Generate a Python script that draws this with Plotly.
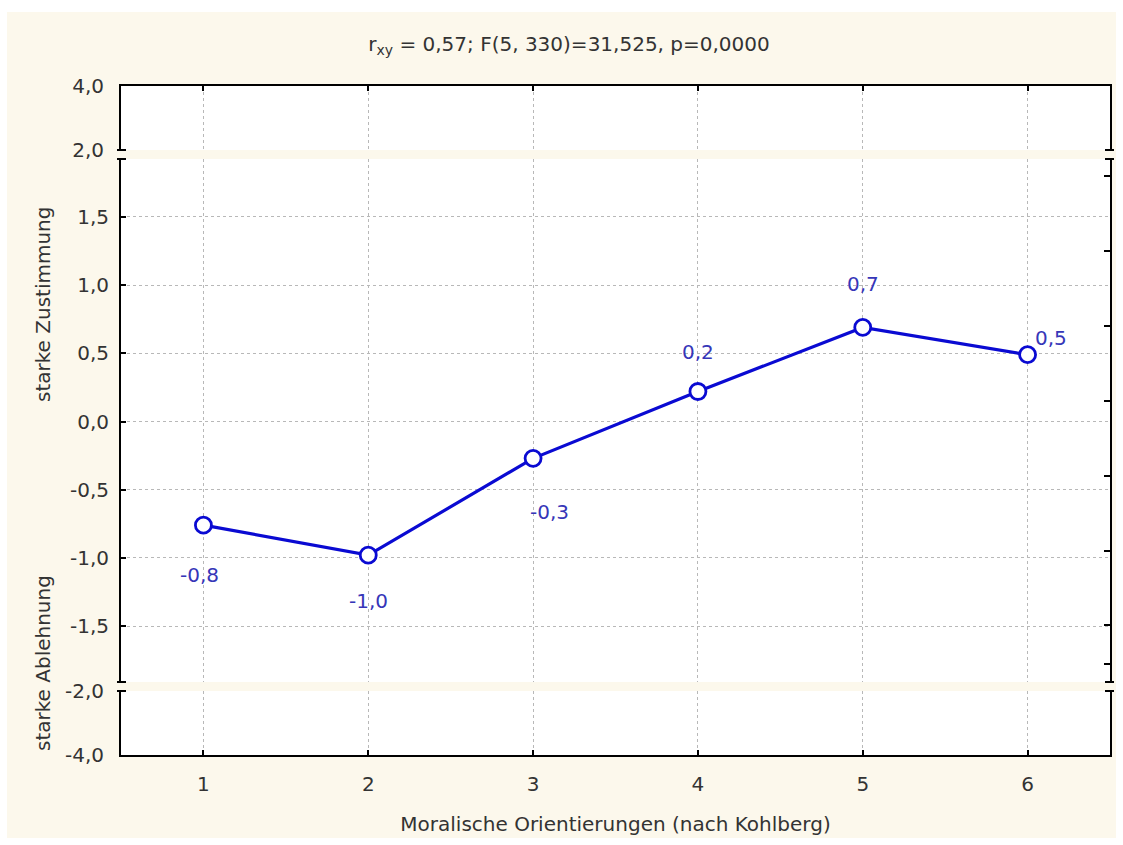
import plotly.graph_objects as go

# ---------------- data ----------------
categories = [1, 2, 3, 4, 5, 6]
means = [-0.76, -0.98, -0.27, 0.22, 0.69, 0.49]
title_text = "r<sub>xy</sub> = 0,57; F(5, 330)=31,525, p=0,0000"
x_title = "Moralische Orientierungen (nach Kohlberg)"
y_title_upper = "starke Zustimmung"
y_title_lower = "starke Ablehnung"
main_ticks = [-1.5, -1.0, -0.5, 0.0, 0.5, 1.0, 1.5]
upper_ticks = [2.0, 4.0]
lower_ticks = [-4.0, -2.0]
right_ticks = [1.80, 1.25, 0.70, 0.15, -0.40, -0.95, -1.49, -1.78]

# label offsets in pixels (style)
label_shift = [(-4, -50), (0, -46), (16, -54), (0, 40), (0, 43), (23, 17)]


def fmt(v):
    return f"{v:.1f}".replace(".", ",")


FONT = "DejaVu Sans"
TXT = "#333333"
BLUE = "#0a0ad2"
LBLUE = "#3636b8"
GRID = "#b8b8b8"
CREAM = "#fcf8ec"

W, H = 1123, 845
ML, MR, MT, MB = 121, 13, 86, 90
PH = H - MT - MB  # 669
PW = W - ML - MR  # 989

dom_low = [0, 64 / PH]
dom_main = [73 / PH, 596 / PH]
dom_up = [605 / PH, 1]

fig = go.Figure()
fig.add_trace(go.Scatter(
    x=categories, y=means, mode="lines+markers",
    xaxis="x", yaxis="y",
    line=dict(color=BLUE, width=3.2),
    marker=dict(symbol="circle", size=16, color="white",
                line=dict(color=BLUE, width=2.8)),
    hoverinfo="skip", showlegend=False,
))
# empty traces so the upper/lower segments and the right tick axis are created
for xa, ya in [("x2", "y2"), ("x3", "y3"), ("x", "y4")]:
    fig.add_trace(go.Scatter(x=[], y=[], xaxis=xa, yaxis=ya, mode="markers",
                             hoverinfo="skip", showlegend=False))

tickfont = dict(family=FONT, size=20, color=TXT)
common_x = dict(range=[0.5, 6.5], zeroline=False, showgrid=True,
                gridcolor=GRID, griddash="dot", gridwidth=1,
                tickvals=categories)

fig.update_layout(
    width=W, height=H,
    margin=dict(l=ML, r=MR, t=MT, b=MB),
    paper_bgcolor="white", plot_bgcolor="white",
    showlegend=False,
    font=dict(family=FONT, size=20, color=TXT),
    title=dict(text=title_text, x=569 / W, xref="container", xanchor="center",
               y=1 - 44 / H, yref="container", yanchor="middle",
               font=dict(family=FONT, size=20, color=TXT)),
    xaxis=dict(**common_x, anchor="y", domain=[0, 1], showline=False,
               ticks="", showticklabels=False),
    xaxis2=dict(**common_x, anchor="y2", domain=[0, 1], side="top",
                showline=True, linecolor="black", linewidth=2,
                ticks="inside", ticklen=5, tickwidth=2, tickcolor="black",
                showticklabels=False, matches="x"),
    xaxis3=dict(**common_x, anchor="y3", domain=[0, 1],
                showline=True, linecolor="black", linewidth=2,
                ticks="inside", ticklen=5, tickwidth=2, tickcolor="black",
                ticktext=[str(c) for c in categories], tickfont=tickfont,
                ticklabelstandoff=10, matches="x",
                title=dict(text=x_title, standoff=22,
                           font=dict(family=FONT, size=20, color=TXT))),
    yaxis=dict(anchor="x", domain=dom_main, range=[-1.91, 1.925],
               showline=True, mirror=True, linecolor="black", linewidth=2,
               ticks="inside", ticklen=5, tickwidth=2, tickcolor="black",
               tickvals=main_ticks, ticktext=[fmt(v) for v in main_ticks],
               tickfont=tickfont, ticklabelstandoff=6,
               showgrid=True, gridcolor=GRID, griddash="dot", gridwidth=1,
               zeroline=False),
    yaxis2=dict(anchor="x2", domain=dom_up, range=[2, 4],
                showline=True, mirror=True, linecolor="black", linewidth=2,
                ticks="", tickvals=upper_ticks,
                ticktext=[fmt(v) for v in upper_ticks],
                tickfont=tickfont, ticklabelstandoff=11,
                showgrid=False, zeroline=False),
    yaxis3=dict(anchor="x3", domain=dom_low, range=[-4, -2],
                showline=True, mirror=True, linecolor="black", linewidth=2,
                ticks="", tickvals=lower_ticks,
                ticktext=[fmt(v) for v in lower_ticks],
                tickfont=tickfont, ticklabelstandoff=11,
                showgrid=True, gridcolor=GRID, griddash="dot", gridwidth=1,
                zeroline=False),
    yaxis4=dict(overlaying="y", side="right", anchor="x", range=[-1.91, 1.925],
                showline=False, showgrid=False, zeroline=False,
                ticks="inside", ticklen=6, tickwidth=2, tickcolor="black",
                tickvals=right_ticks, showticklabels=False),
)

# background: cream frame with white border, white plot segments
shapes = [dict(type="rect", xref="paper", yref="paper",
               x0=(7 - ML) / PW, x1=(1116 - ML) / PW,
               y0=(MT + PH - 838) / PH, y1=(MT + PH - 12) / PH,
               fillcolor=CREAM, line=dict(width=0), layer="below")]
for xr, yr in [("x domain", "y domain"), ("x2 domain", "y2 domain"),
               ("x3 domain", "y3 domain")]:
    shapes.append(dict(type="rect", xref=xr, yref=yr, x0=0, x1=1, y0=0, y1=1,
                       fillcolor="white", line=dict(width=0), layer="below"))

# break marks
for yr, yv in [("y2 domain", 0), ("y domain", 1), ("y domain", 0), ("y3 domain", 1)]:
    for x0, x1 in [(-4 / PW, 5 / PW), (1 - 5 / PW, 1 + 4 / PW)]:
        shapes.append(dict(type="line", xref="paper", yref=yr,
                           x0=x0, x1=x1, y0=yv, y1=yv,
                           line=dict(color="black", width=2)))
fig.update_layout(shapes=shapes)

annotations = []
for c, v, (dx, dy) in zip(categories, means, label_shift):
    annotations.append(dict(x=c, y=v, xref="x", yref="y", text=fmt(v),
                            showarrow=False, xshift=dx, yshift=dy,
                            font=dict(family=FONT, size=20, color=LBLUE)))
annotations.append(dict(text=y_title_upper, textangle=-90, showarrow=False,
                        xref="paper", yref="paper",
                        x=(43 - ML) / PW, y=(MT + PH - 305) / PH,
                        xanchor="center", yanchor="middle",
                        font=dict(family=FONT, size=20, color=TXT)))
annotations.append(dict(text=y_title_lower, textangle=-90, showarrow=False,
                        xref="paper", yref="paper",
                        x=(43 - ML) / PW, y=(MT + PH - 663) / PH,
                        xanchor="center", yanchor="middle",
                        font=dict(family=FONT, size=20, color=TXT)))
fig.update_layout(annotations=annotations)

fig.write_html("out.html",
               config={"displayModeBar": False},
               post_script="document.body.style.margin='0';"
                           "document.body.style.padding='0';")
